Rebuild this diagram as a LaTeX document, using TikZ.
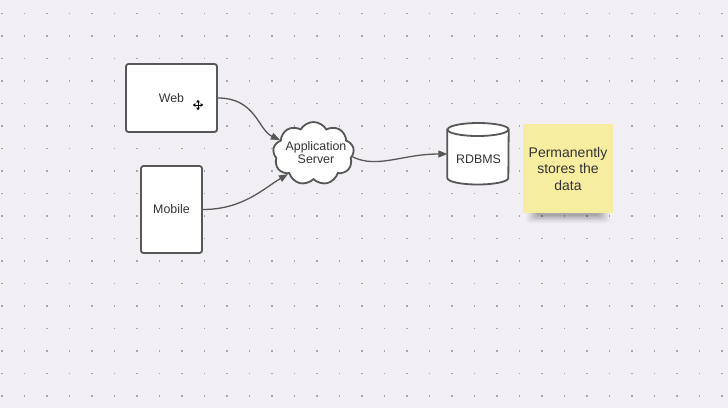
\documentclass[tikz,border=0pt]{standalone}
\usepackage{fontspec}
\setmainfont{Liberation Sans}
\usetikzlibrary{shapes.symbols,arrows.meta}
\definecolor{bg}{HTML}{F1EFF3}
\definecolor{dotc}{HTML}{A8A6AE}
\definecolor{linec}{HTML}{575757}
\definecolor{txt}{HTML}{333333}
\definecolor{sticky}{HTML}{F7EDA0}
\tikzset{
  box/.style={draw=linec, line width=1.8pt, fill=white, rounded corners=2.5pt, inner sep=0pt, text=txt, font=\fontsize{12.4}{15}\selectfont},
  cloudnode/.style={cloud, cloud puffs=9, cloud puff arc=120, aspect=1.3, draw=linec, line width=1.8pt, fill=white, inner sep=0pt, minimum width=81pt, minimum height=63pt},
  conn/.style={draw=linec, line width=1.3pt, -{Triangle[length=9pt,width=7pt]}},
  lbl/.style={text=txt, font=\fontsize{12.4}{14}\selectfont, inner sep=0pt, align=center},
  note/.style={fill=sticky, inner sep=0pt, minimum width=90pt, minimum height=89pt, text=txt, align=center, font=\fontsize{14}{16.5}\selectfont},
}
\begin{document}
\begin{tikzpicture}[x=1pt,y=-1pt]
\useasboundingbox[fill=bg] (0,0) rectangle (728,408);
% dot grid
\foreach \i in {0,...,32}{
  \foreach \j in {0,...,17}{
    \fill[dotc] ({2+22.5*\i-0.7},{13.5+22.5*\j-0.7}) rectangle ++(1.4,1.4);
  }
}
% nodes
\node[box, minimum width=91pt, minimum height=68pt] (web) at (171.5,98) {Web};
\node[box, minimum width=61pt, minimum height=87pt] (mobile) at (171.5,209.5) {Mobile};
\node[cloudnode] (cloud) at (313.5,153.5) {};
\node[lbl] (cloudt) at (316,152.5) {Application\\[-1pt]Server};
% cylinder
\node[inner sep=0pt, minimum width=61pt, minimum height=60pt] (db) at (478,154) {};
\filldraw[draw=linec, fill=white, line width=1.8pt]
  (db.west |- 0,129.5) -- (db.west |- 0,178) arc[start angle=180, end angle=360, x radius=30.5pt, y radius=6.5pt]
  -- (db.east |- 0,129.5) arc[start angle=0, end angle=180, x radius=30.5pt, y radius=6.5pt] -- cycle;
\draw[draw=linec, line width=1.8pt] (db.west |- 0,129.5) arc[start angle=180, end angle=360, x radius=30.5pt, y radius=6.5pt];
\node[lbl] (dbt) at (478.5,159.5) {RDBMS};
% sticky note with shadow
\foreach \k/\o in {0/0.03,1/0.04,2/0.05,3/0.06,4/0.07,5/0.08}{
  \fill[black, opacity=\o, rounded corners=3pt] ({526+\k*2},{206}) rectangle ({610-\k*2},{223-\k*1.4});
}
\node[note] (stk) at (568,168.5) {Permanently\\stores the\\data};
% cursor icon
\node[inner sep=0pt, minimum size=10pt] (cur) at (198,105) {};
\draw[black, line width=0.9pt, {Triangle[length=2.5pt,width=3.5pt]}-{Triangle[length=2.5pt,width=3.5pt]}] (cur.west) -- (cur.east);
\draw[black, line width=0.9pt, {Triangle[length=2.5pt,width=3.5pt]}-{Triangle[length=2.5pt,width=3.5pt]}] (cur.north) -- (cur.south);
% connectors
\draw[conn] (web.east) .. controls +(38,0) and +(-22,-10) .. (cloud.158);
\draw[conn] (mobile.east) .. controls +(40,0) and +(-24,14) .. (cloud.219);
\draw[conn] (cloud.-5) .. controls +(25,12) and +(-45,0) .. (db.west);
\end{tikzpicture}
\end{document}
